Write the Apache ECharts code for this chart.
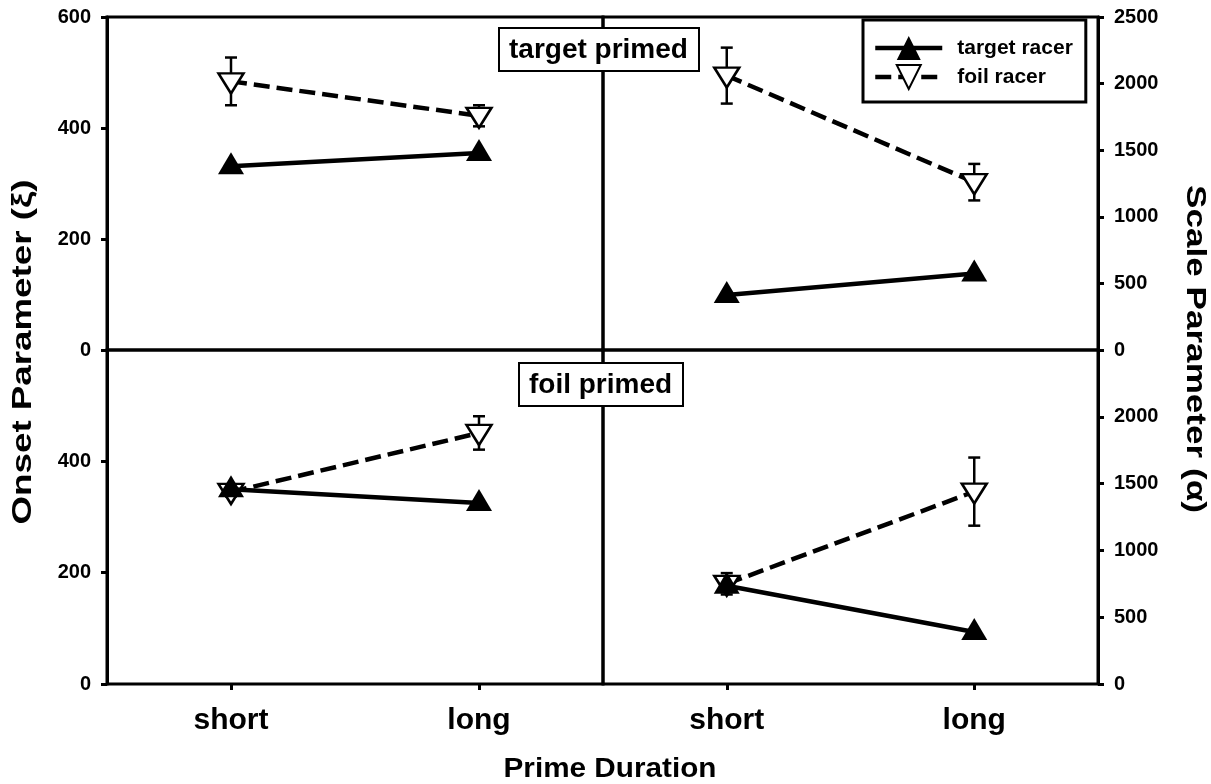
<!DOCTYPE html>
<html>
<head>
<meta charset="utf-8">
<script src="https://cdn.jsdelivr.net/npm/echarts@6/dist/echarts.min.js"></script>
<style>
  html, body { margin: 0; padding: 0; background: #fff; }
  #chart { width: 1211px; height: 784px; }
</style>
</head>
<body>
<div id="chart"></div>
<script>
const categories = ['short', 'long']

// target primed panel (top)
const tpTargetOnset = [331, 355]
const tpFoilOnset = [484, 422]
const tpFoilOnsetErr = [43, 19]
const tpTargetScale = [413, 575]
const tpFoilScale = [2060, 1260]
const tpFoilScaleErr = [210, 137]

// foil primed panel (bottom)
const fpTargetOnset = [350, 325]
const fpFoilOnset = [345, 451]
const fpFoilOnsetErr = [8, 30]
const fpTargetScale = [735, 389]
const fpFoilScale = [750, 1440]
const fpFoilScaleErr = [80, 255]

const onsetTicks = { min: 0, max: 600, interval: 200 }
const scaleTicks = { min: 0, max: 2500, interval: 500 }

const font = "'Liberation Sans', Arial, sans-serif"
const black = '#000'
const dash = [16, 7]

const chart = echarts.init(document.getElementById('chart'))

function grid(left, top, width, height) {
  return {
    left: left, top: top, width: width, height: height,
    show: true, borderColor: black, borderWidth: 3,
    backgroundColor: 'transparent'
  }
}

function xAxis(gridIndex, showLabels) {
  return {
    type: 'category',
    gridIndex: gridIndex,
    data: categories,
    boundaryGap: true,
    axisLine: { show: false },
    axisTick: {
      show: showLabels,
      alignWithLabel: true,
      length: 6,
      lineStyle: { color: black, width: 3 }
    },
    axisLabel: {
      show: showLabels,
      margin: 22,
      color: black,
      fontSize: 30,
      fontWeight: 'bold',
      fontFamily: font
    },
    splitLine: { show: false }
  }
}

function yAxis(gridIndex, ticks, position, showMax) {
  return {
    type: 'value',
    gridIndex: gridIndex,
    position: position,
    min: ticks.min,
    max: ticks.max,
    interval: ticks.interval,
    axisLine: { show: true, lineStyle: { color: black, width: 3 } },
    axisTick: { show: true, length: 6, lineStyle: { color: black, width: 3 } },
    axisLabel: {
      showMaxLabel: showMax,
      margin: 16,
      color: black,
      fontSize: 20,
      fontWeight: 'bold',
      fontFamily: font,
      formatter: function (v) { return String(v) }
    },
    splitLine: { show: false }
  }
}

function targetSeries(axisIndex, values) {
  return {
    name: 'target racer',
    type: 'line',
    xAxisIndex: axisIndex,
    yAxisIndex: axisIndex,
    data: values,
    symbol: 'triangle',
    symbolSize: [26, 22],
    symbolOffset: [0, -3],
    itemStyle: { color: black, borderWidth: 0 },
    lineStyle: { color: black, width: 4.5, type: 'solid' },
    z: 3,
    animation: false
  }
}

function foilSeries(axisIndex, values) {
  return {
    name: 'foil racer',
    type: 'line',
    xAxisIndex: axisIndex,
    yAxisIndex: axisIndex,
    data: values,
    symbol: 'triangle',
    symbolRotate: 180,
    symbolSize: [25, 20],
    symbolOffset: [0, 2],
    itemStyle: { color: '#fff', borderColor: black, borderWidth: 2.5 },
    lineStyle: { color: black, width: 4.5, type: dash },
    z: 2,
    animation: false
  }
}

function errorSeries(axisIndex, values, errs) {
  return {
    name: 'error',
    type: 'custom',
    xAxisIndex: axisIndex,
    yAxisIndex: axisIndex,
    silent: true,
    z: 1,
    animation: false,
    data: values.map(function (v, i) { return [i, v - errs[i], v + errs[i]] }),
    renderItem: function (params, api) {
      const lo = api.coord([api.value(0), api.value(1)])
      const hi = api.coord([api.value(0), api.value(2)])
      const cap = 6
      const style = { stroke: black, lineWidth: 2.5 }
      return {
        type: 'group',
        children: [
          { type: 'line', shape: { x1: hi[0], y1: hi[1], x2: lo[0], y2: lo[1] }, style: style },
          { type: 'line', shape: { x1: hi[0] - cap, y1: hi[1], x2: hi[0] + cap, y2: hi[1] }, style: style },
          { type: 'line', shape: { x1: lo[0] - cap, y1: lo[1], x2: lo[0] + cap, y2: lo[1] }, style: style }
        ]
      }
    }
  }
}

const boxLabel = {
  borderColor: black,
  borderWidth: 2,
  backgroundColor: '#fff',
  padding: [8, 11, 7, 10],
  textStyle: { color: black, fontSize: 28, fontWeight: 'bold', fontFamily: font }
}

chart.setOption({
  animation: false,
  title: [
    Object.assign({ text: 'target primed', left: 499, top: 28 }, boxLabel),
    Object.assign({ text: 'foil primed', left: 519, top: 363 }, boxLabel)
  ],
  legend: {
    data: [
      { name: 'target racer', lineStyle: { width: 4.5, type: 'solid', color: black } },
      { name: 'foil racer', lineStyle: { width: 4.5, type: dash, color: black } }
    ],
    orient: 'vertical',
    left: 863,
    top: 20,
    padding: [16, 13, 12, 10],
    itemWidth: 67,
    itemHeight: 30,
    itemGap: 4,
    borderColor: black,
    borderWidth: 3,
    backgroundColor: '#fff',
    textStyle: {
      color: black,
      fontSize: 21,
      fontWeight: 'bold',
      fontFamily: font,
      padding: [0, 0, 0, 10]
    }
  },
  grid: [
    grid(107, 17, 496, 333),
    grid(603, 17, 495, 333),
    grid(107, 350, 496, 334),
    grid(603, 350, 495, 334)
  ],
  xAxis: [
    xAxis(0, false),
    xAxis(1, false),
    xAxis(2, true),
    xAxis(3, true)
  ],
  yAxis: [
    yAxis(0, onsetTicks, 'left', true),
    yAxis(1, scaleTicks, 'right', true),
    yAxis(2, onsetTicks, 'left', false),
    yAxis(3, scaleTicks, 'right', false)
  ],
  graphic: [
    {
      type: 'text', x: 24, y: 352, rotation: Math.PI / 2, scaleX: 1.36,
      style: { text: 'Onset Parameter (ξ)', fill: black, font: 'bold 27px ' + font, textAlign: 'center', textVerticalAlign: 'middle' }
    },
    {
      type: 'text', x: 1194, y: 349, rotation: -Math.PI / 2, scaleX: 1.3,
      style: { text: 'Scale Parameter (α)', fill: black, font: 'bold 27px ' + font, textAlign: 'center', textVerticalAlign: 'middle' }
    },
    {
      type: 'text', x: 610, y: 770, scaleX: 1.1,
      style: { text: 'Prime Duration', fill: black, font: 'bold 27px ' + font, textAlign: 'center', textVerticalAlign: 'middle' }
    }
  ],
  series: [
    errorSeries(0, tpFoilOnset, tpFoilOnsetErr),
    targetSeries(0, tpTargetOnset),
    foilSeries(0, tpFoilOnset),
    errorSeries(1, tpFoilScale, tpFoilScaleErr),
    targetSeries(1, tpTargetScale),
    foilSeries(1, tpFoilScale),
    errorSeries(2, fpFoilOnset, fpFoilOnsetErr),
    targetSeries(2, fpTargetOnset),
    foilSeries(2, fpFoilOnset),
    errorSeries(3, fpFoilScale, fpFoilScaleErr),
    targetSeries(3, fpTargetScale),
    foilSeries(3, fpFoilScale)
  ]
})
</script>
</body>
</html>
